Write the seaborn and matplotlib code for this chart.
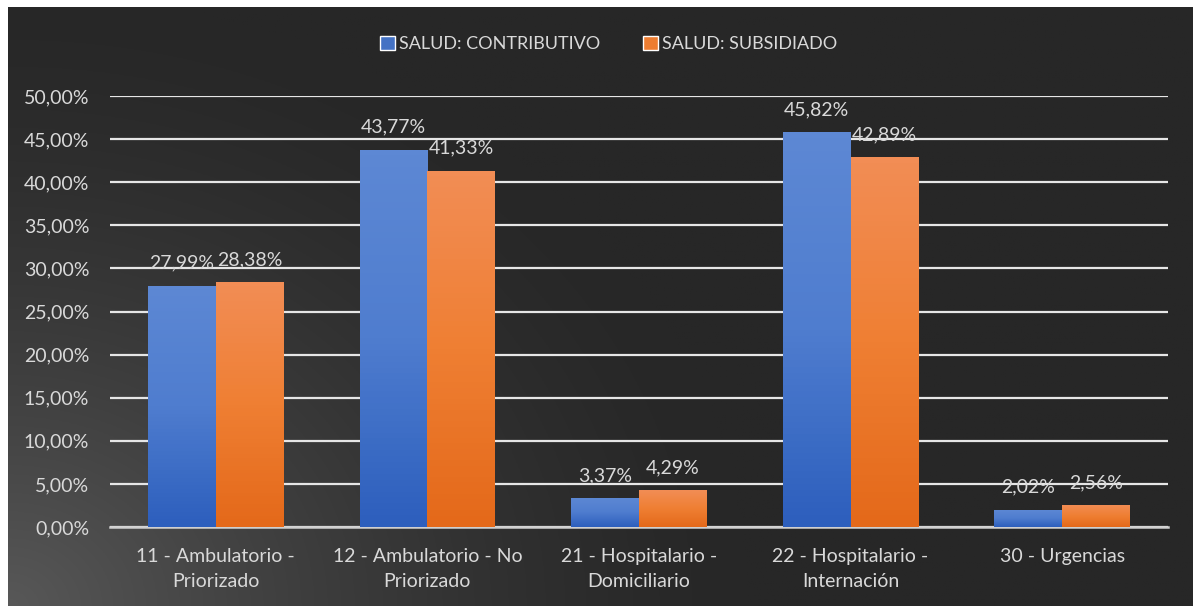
import numpy as np
import pandas as pd
import matplotlib.pyplot as plt
import seaborn as sns
from matplotlib.colors import LinearSegmentedColormap
from matplotlib.patches import Patch

categories = ["11 - Ambulatorio -\nPriorizado", "12 - Ambulatorio - No\nPriorizado",
              "21 - Hospitalario -\nDomiciliario", "22 - Hospitalario -\nInternación",
              "30 - Urgencias"]
contributivo = [27.99, 43.77, 3.37, 45.82, 2.02]
subsidiado = [28.38, 41.33, 4.29, 42.89, 2.56]
series = ["SALUD: CONTRIBUTIVO", "SALUD: SUBSIDIADO"]
yticks = [0, 5, 10, 15, 20, 25, 30, 35, 40, 45, 50]

TEXT = "#d9d9d9"
BLUE = "#4472c4"
ORANGE = "#ed7d31"
FS = 14

sns.set_theme(style="dark")
plt.rcParams['font.family'] = ['Lato', 'DejaVu Sans']

df = pd.DataFrame({
    "categoria": categories * 2,
    "valor": contributivo + subsidiado,
    "serie": [series[0]] * len(categories) + [series[1]] * len(categories),
})

W, H = 1193, 606
fig = plt.figure(figsize=(W / 100, H / 100), dpi=100, facecolor="white")

# background panel with a soft light spot in the lower left
bg = fig.add_axes([8 / W, 0, 1 - 8 / W, 1 - 7 / H], zorder=-5)
yy, xx = np.mgrid[0:H:2, 0:W:2]
d = np.sqrt((xx / 1.2) ** 2 + (H - yy) ** 2)
t = np.clip(1 - d / 620, 0, 1) ** 1.5
dark, light = 0x27, 0x58
g = (dark + (light - dark) * t) / 255
bg.imshow(np.dstack([g, g, g]), aspect="auto", extent=[0, 1, 0, 1])
bg.set_axis_off()

ax = fig.add_axes([110 / W, 1 - 527 / H, (1168 - 110) / W, (527 - 96) / H])
ax.patch.set_alpha(0)

sns.barplot(data=df, x="categoria", y="valor", hue="serie", palette=[BLUE, ORANGE],
            width=0.64, gap=0, saturation=1, ax=ax, legend=False, zorder=3,
            linewidth=0, edgecolor="none")

grads = {
    BLUE: LinearSegmentedColormap.from_list("b", ["#2d5fbd", "#4f7dcf", "#5d88d4"]),
    ORANGE: LinearSegmentedColormap.from_list("o", ["#e4691a", "#ef7f33", "#f28d55"]),
}
ramp = np.linspace(0, 1, 64).reshape(-1, 1)
for cont, col in zip(ax.containers, [BLUE, ORANGE]):
    for bar in cont:
        x0, w, h = bar.get_x(), bar.get_width(), bar.get_height()
        im = ax.imshow(ramp, cmap=grads[col], extent=[x0, x0 + w, 0, h],
                       origin="lower", aspect="auto", zorder=4)
        im.set_clip_path(bar)
    labels = [f"{v:.2f}%".replace(".", ",") for v in cont.datavalues]
    ax.bar_label(cont, labels=labels, padding=10, color=TEXT, fontsize=FS, zorder=6)

ax.set_xlim(-0.5, len(categories) - 0.5)
ax.set_ylim(0, 50)
ax.set_yticks(yticks)
ax.set_yticklabels([f"{v:.2f}%".replace(".", ",") for v in yticks])
ax.yaxis.grid(True, color="#e6e6e6", linewidth=1.6, zorder=1)
ax.xaxis.grid(False)
ax.set_axisbelow(True)
for s in ["top", "right", "left"]:
    ax.spines[s].set_visible(False)
ax.spines["bottom"].set_color("#d0d0d0")
ax.spines["bottom"].set_linewidth(1.8)
ax.tick_params(axis="y", length=0, pad=15, labelsize=FS, labelcolor=TEXT)
ax.tick_params(axis="x", length=0, pad=15, labelsize=FS, labelcolor=TEXT)
for lab in ax.get_xticklabels():
    lab.set_linespacing(1.6)
ax.set_xlabel("")
ax.set_ylabel("")

handles = [Patch(facecolor=BLUE, label=series[0]), Patch(facecolor=ORANGE, label=series[1])]
fig.legend(handles=handles, loc="center", bbox_to_anchor=(0.51, 1 - 44 / H), ncol=2,
           frameon=False, fontsize=13, labelcolor=TEXT, handlelength=0.85,
           handleheight=0.85, handletextpad=0.2, columnspacing=2.4)

fig.savefig("out.png", dpi=100, facecolor="white")
